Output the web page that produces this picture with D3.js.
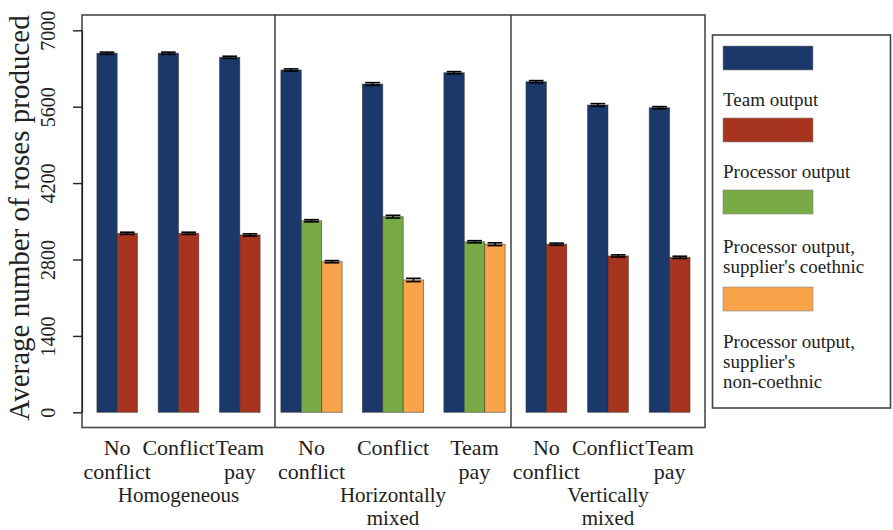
<!DOCTYPE html>
<html>
<head>
<meta charset="utf-8">
<script src="https://cdn.jsdelivr.net/npm/d3@7"></script>
<style>
  html, body { margin: 0; padding: 0; background: #fff; }
  svg { display: block; font-family: "Liberation Serif", "DejaVu Serif", serif; }
</style>
</head>
<body>
<svg id="chart" width="893" height="530"></svg>
<script>
// ---------- DATA ----------
const panels = ["Homogeneous", "Horizontally\nmixed", "Vertically\nmixed"];
const conditions = ["No\nconflict", "Conflict", "Team\npay"];
const yTicks = [0, 1400, 2800, 4200, 5600, 7000];
const yTitle = "Average number of roses produced";

// values per panel (rows) and condition (columns); null = not shown
const teamOutput          = [[6580, 6580, 6505], [6273, 6016, 6223], [6058, 5631, 5582]];
const processorOutput     = [[3280, 3280, 3250], [null, null, null], [3080, 2865, 2840]];
const procCoethnic        = [[null, null, null], [3510, 3585, 3125], [null, null, null]];
const procNonCoethnic     = [[null, null, null], [2760, 2425, 3080], [null, null, null]];
// standard errors (small caps)
const seTeam      = [[20, 20, 20], [20, 25, 20], [20, 25, 20]];
const seProcessor = [[20, 20, 20], [null, null, null], [20, 20, 20]];
const seCoeth     = [[null, null, null], [20, 25, 20], [null, null, null]];
const seNonCoeth  = [[null, null, null], [20, 30, 25], [null, null, null]];

const seriesNames = ["team", "processor", "coethnic", "noncoethnic"];
const seriesColors = ["#1b386b", "#a7341f", "#78ab46", "#f9a44b"];
const legendLabels = [
  [],
  ["Team output"],
  ["Processor output"],
  ["Processor output,", "supplier's coethnic"],
  ["Processor output,", "supplier's", "non-coethnic"]
];

// ---------- LAYOUT ----------
const svg = d3.select("#chart");
const frame = { left: 82, right: 705, top: 15, bottom: 427.5 };
const panelEdges = [82, 275, 511, 705];

const y = d3.scaleLinear().domain([0, 7000]).range([412.3, 30.3]);
const color = d3.scaleOrdinal().domain(seriesNames).range(seriesColors);

const seriesData = {
  team: [teamOutput, seTeam],
  processor: [processorOutput, seProcessor],
  coethnic: [procCoethnic, seCoeth],
  noncoethnic: [procNonCoethnic, seNonCoeth]
};

// panel-level band scales
const panelInfo = panels.map((p, pi) => {
  const present = seriesNames.filter(s => seriesData[s][0][pi].some(v => v != null));
  const nBars = present.length;
  const x0 = d3.scaleBand().domain(conditions)
    .range([panelEdges[pi], panelEdges[pi + 1]]);
  if (nBars === 2) x0.paddingInner(0.338).paddingOuter(0.243);
  else x0.paddingInner(0.248).paddingOuter(0.072);
  const x1 = d3.scaleBand().domain(present).range([0, x0.bandwidth()]);
  return { pi, present, x0, x1 };
});

// bars
const barsG = svg.append("g");
panelInfo.forEach(({ pi, present, x0, x1 }) => {
  conditions.forEach((c, ci) => {
    present.forEach(s => {
      const v = seriesData[s][0][pi][ci];
      const se = seriesData[s][1][pi][ci];
      const xs = x0(c) + x1(s);
      barsG.append("rect")
        .attr("x", xs)
        .attr("y", y(v))
        .attr("width", x1.bandwidth())
        .attr("height", y(0) - y(v))
        .attr("fill", color(s))
        .attr("stroke", "#2a2a2a")
        .attr("stroke-opacity", 0.6)
        .attr("stroke-width", 0.8);
      // error bar
      const cx = xs + x1.bandwidth() / 2;
      const hw = x1.bandwidth() * 0.36;
      const eg = barsG.append("g").attr("stroke", "#000").attr("stroke-width", 1.6);
      eg.append("line").attr("x1", cx).attr("x2", cx).attr("y1", y(v - se)).attr("y2", y(v + se));
      eg.append("line").attr("x1", cx - hw).attr("x2", cx + hw).attr("y1", y(v + se)).attr("y2", y(v + se));
      eg.append("line").attr("x1", cx - hw).attr("x2", cx + hw).attr("y1", y(v - se)).attr("y2", y(v - se));
    });
  });
});

// frame and panel separators
svg.append("rect")
  .attr("x", frame.left).attr("y", frame.top)
  .attr("width", frame.right - frame.left).attr("height", frame.bottom - frame.top)
  .attr("fill", "none").attr("stroke", "#4a4a4a").attr("stroke-width", 1.6);
panelEdges.slice(1, -1).forEach(px => {
  svg.append("line").attr("x1", px).attr("x2", px)
    .attr("y1", frame.top).attr("y2", frame.bottom)
    .attr("stroke", "#333").attr("stroke-width", 1.4);
});

// y axis
const yAxis = d3.axisLeft(y).tickValues(yTicks).tickSize(9).tickSizeOuter(0).tickFormat(d3.format("d"));
const yg = svg.append("g").attr("transform", `translate(${frame.left},0)`).call(yAxis);
yg.select(".domain").attr("stroke", "#222").attr("stroke-width", 1.2);
yg.selectAll(".tick line").attr("stroke", "#222").attr("stroke-width", 1.4);
yg.selectAll(".tick text")
  .attr("transform", "rotate(-90)")
  .attr("x", 0).attr("y", -27).attr("dy", 0)
  .attr("text-anchor", "middle")
  .style("font-size", "20px")
  .style("font-family", "'Liberation Serif', serif")
  .attr("fill", "#222");

// y title
svg.append("text")
  .attr("transform", `translate(29,218) rotate(-90)`)
  .attr("text-anchor", "middle")
  .style("font-size", "29px")
  .attr("fill", "#222")
  .text(yTitle);

// x category labels
panelInfo.forEach(({ pi, x0 }) => {
  conditions.forEach(c => {
    const cx = x0(c) + x0.bandwidth() / 2;
    const t = svg.append("text").attr("text-anchor", "middle")
      .style("font-size", "22px").attr("fill", "#222");
    c.split("\n").forEach((line, li) => {
      t.append("tspan").attr("x", cx).attr("y", 455 + li * 23.5).text(line);
    });
  });
  const pcx = (panelEdges[pi] + panelEdges[pi + 1]) / 2;
  const pt = svg.append("text").attr("text-anchor", "middle")
    .style("font-size", "21px").attr("fill", "#222");
  panels[pi].split("\n").forEach((line, li) => {
    pt.append("tspan").attr("x", pcx).attr("y", 502 + li * 22.5).text(line);
  });
});

// legend
svg.append("rect").attr("x", 712.5).attr("y", 35).attr("width", 178).attr("height", 373)
  .attr("fill", "#fff").attr("stroke", "#444").attr("stroke-width", 1.6);
const swatchTops = [46, 118, 190, 287];
seriesNames.forEach((s, i) => {
  svg.append("rect").attr("x", 723).attr("y", swatchTops[i]).attr("width", 90).attr("height", 24)
    .attr("fill", color(s)).attr("stroke", "#888").attr("stroke-width", 0.6);
});
const labelStarts = [null, 106, 178, 253, 348];
legendLabels.forEach((lines, i) => {
  if (!lines.length) return;
  const t = svg.append("text").style("font-size", "19px").attr("fill", "#222");
  lines.forEach((line, li) => {
    t.append("tspan").attr("x", 723).attr("y", labelStarts[i] + li * 20).text(line);
  });
});
</script>
</body>
</html>
